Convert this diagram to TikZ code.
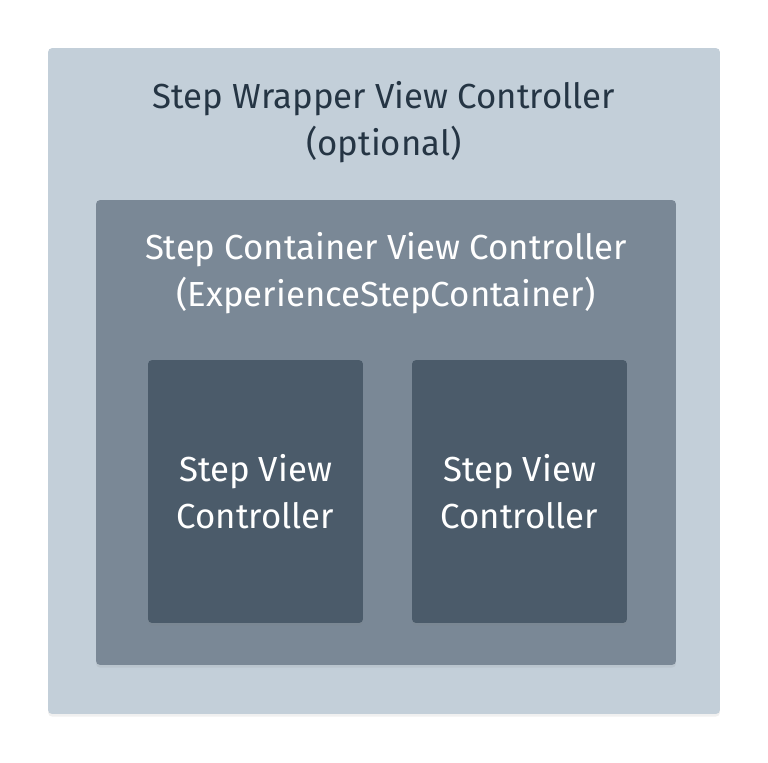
\documentclass[tikz,border=0pt]{standalone}
\usepackage{fontspec}
\setmainfont{Fira Sans}
\usetikzlibrary{positioning, shadows}
\definecolor{wrapperfill}{HTML}{C3CFD9}
\definecolor{containerfill}{HTML}{7A8896}
\definecolor{stepfill}{HTML}{4B5B6A}
\definecolor{darktext}{HTML}{253544}
\tikzset{%
	every box/.style={
		rectangle,
		rounded corners=0.08cm,
		inner sep=0pt,
		drop shadow={opacity=0.12, shadow xshift=0pt, shadow yshift=-1.5pt}
	},
	every label text/.style={
		align=center,
		font=\fontsize{19.8}{27}\selectfont,
		inner sep=0pt
	},
}
\begin{document}
\begin{tikzpicture}[x=0.02cm, y=-0.02cm]
	\useasboundingbox (0,0) rectangle (768,762);
	
	% Boxes
	\node[every box, fill=wrapperfill, minimum width=13.44cm, minimum height=13.32cm] (wrapper) at (384,381) {};
	\node[every box, fill=containerfill, minimum width=11.6cm, minimum height=9.3cm] (container) at (386,432.5) {};
	\node[every box, fill=stepfill, minimum width=4.3cm, minimum height=5.26cm] (stepA) at (255.5,491.5) {};
	\node[every box, fill=stepfill, minimum width=4.3cm, minimum height=5.26cm] (stepB) at (519.5,491.5) {};
	
	% Labels
	\node[every label text, text=darktext] (wrapperlabel) at (384,122) {Step Wrapper View Controller\\(optional)};
	\node[every label text, text=white] (containerlabel) at (386,273) {Step Container View Controller\\(ExperienceStepContainer)};
	\node[every label text, text=white] at (stepA.center) {Step View\\Controller};
	\node[every label text, text=white] at (stepB.center) {Step View\\Controller};
	
\end{tikzpicture}
\end{document}
